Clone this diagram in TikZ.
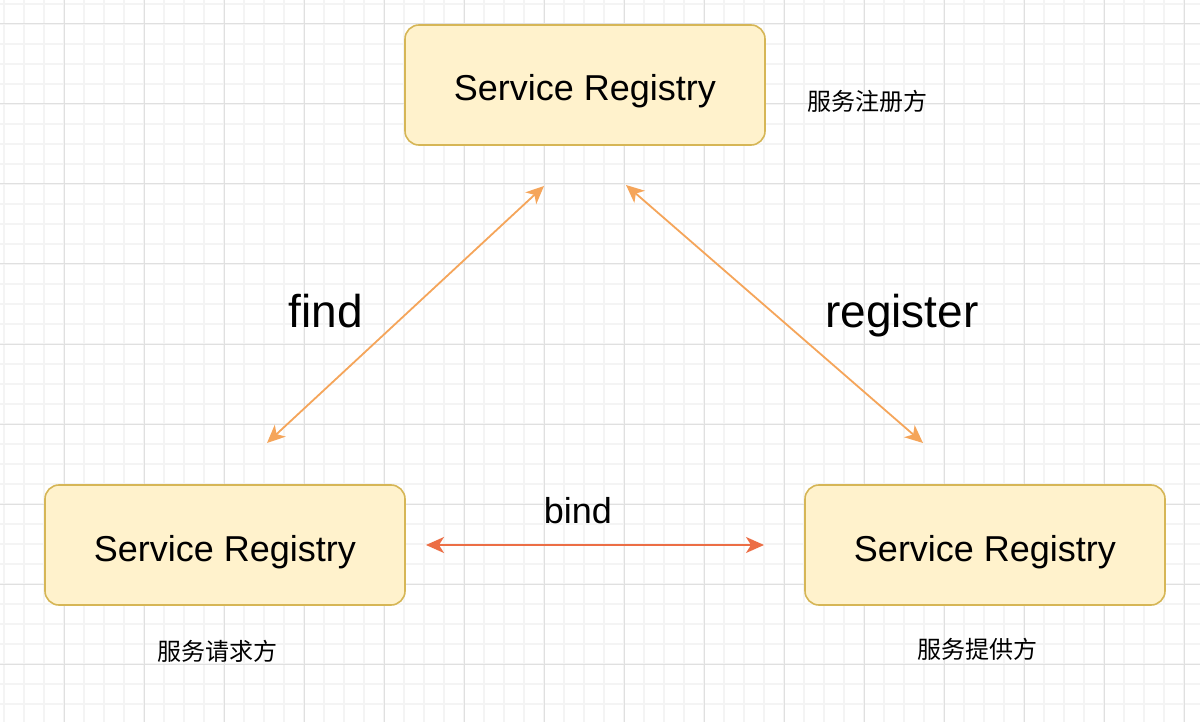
\documentclass[tikz,border=0pt]{standalone}
\usepackage{fontspec}
\setmainfont{Liberation Sans}
\newfontfamily\cjk{Noto Sans CJK SC}
\usetikzlibrary{arrows.meta}
\definecolor{gridminor}{HTML}{F4F4F4}
\definecolor{gridmajor}{HTML}{E0E0E0}
\definecolor{boxfill}{HTML}{FFF2CC}
\definecolor{boxdraw}{HTML}{D6B656}
\definecolor{arrowA}{HTML}{F5A55A}
\definecolor{arrowB}{HTML}{EC6E45}
\tikzset{
  regbox/.style={draw=boxdraw, fill=boxfill, line width=1.6pt, rounded corners=14pt,
    minimum width=360pt, minimum height=120pt, inner sep=0pt,
    text height=32pt, text depth=0pt,
    font=\fontsize{36}{43}\selectfont},
  biglabel/.style={font=\fontsize{46}{55}\selectfont, inner sep=0pt, anchor=base},
  midlabel/.style={font=\fontsize{36}{43}\selectfont, inner sep=0pt, anchor=base},
  cnlabel/.style={font=\cjk\fontsize{24}{29}\selectfont, inner sep=0pt},
  conn/.style={line width=1.8pt, {Stealth[length=18pt,width=16pt,inset=5pt]}-{Stealth[length=18pt,width=16pt,inset=5pt]}},
  minorline/.style={draw=gridminor, line width=1.5pt},
  majorline/.style={draw=gridmajor, line width=1pt}
}
\begin{document}
\begin{tikzpicture}[x=1pt,y=-1pt]
\useasboundingbox[fill=white] (0,0) rectangle (1200,722);
% grid
\foreach \i in {0,...,59} \draw[minorline] (4+20*\i,0) -- (4+20*\i,722);
\foreach \j in {0,...,35} \draw[minorline] (0,4+20*\j) -- (1200,4+20*\j);
\foreach \i in {0,...,14} \draw[majorline] (64+80*\i,0) -- (64+80*\i,722);
\foreach \j in {0,...,8} \draw[majorline] (0,24+80*\j) -- (1200,24+80*\j);
% boxes
\node[regbox] (top) at (585,85) {Service Registry};
\node[regbox] (left) at (225,545) {Service Registry};
\node[regbox] (right) at (985,545) {Service Registry};
% chinese labels
\node[cnlabel] (topcn) at (867,101) {服务注册方};
\node[cnlabel] (leftcn) at (217,651) {服务请求方};
\node[cnlabel] (rightcn) at (977,649) {服务提供方};
% arrow end points
\coordinate (findA) at (267,443);
\coordinate (findB) at (544,186);
\coordinate (regA) at (626,185);
\coordinate (regB) at (923,443);
\coordinate (bindA) at (426,545);
\coordinate (bindB) at (764,545);
\draw[conn, draw=arrowA, fill=arrowA] (findA) -- (findB);
\draw[conn, draw=arrowA, fill=arrowA] (regA) -- (regB);
\draw[conn, draw=arrowB, fill=arrowB] (bindA) -- (bindB);
% labels
\node[biglabel] (find) at (326,327) {find};
\node[biglabel] (register) at (902,327) {register};
\node[midlabel] (bind) at (578,523) {bind};
\end{tikzpicture}
\end{document}
